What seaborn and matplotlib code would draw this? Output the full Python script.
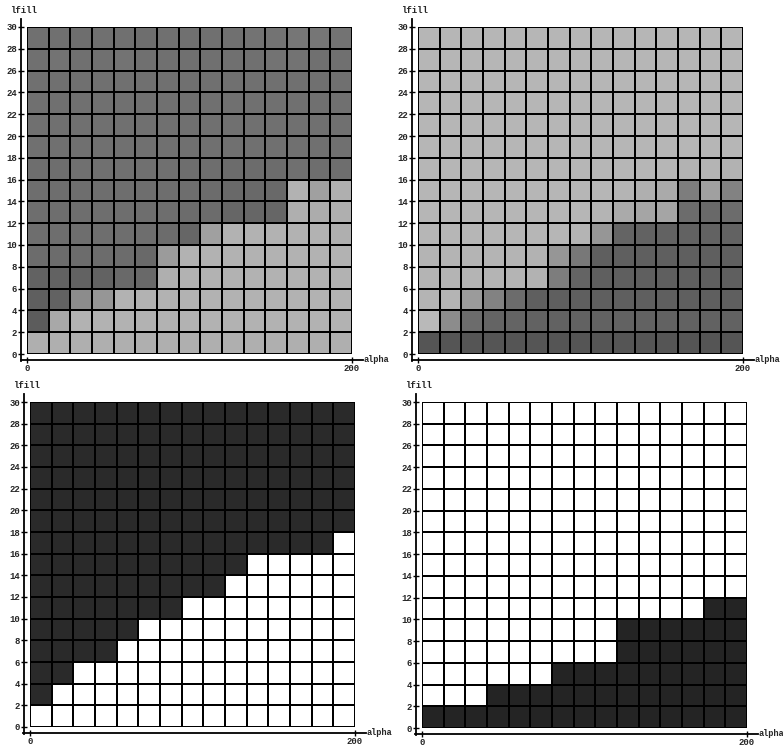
import numpy as np
import pandas as pd
import matplotlib
matplotlib.use('Agg')
import matplotlib.pyplot as plt
import seaborn as sns

# 网格: 15 列 (alpha 0..200) x 15 行 (lfill 0..30), 灰度 0-255, 第一行为最上面 (lfill 28-30)
alpha_ticks = [0, 200]
lfill_ticks = [30, 28, 26, 24, 22, 20, 18, 16, 14, 12, 10, 8, 6, 4, 2, 0]

# 左上图灰度
gray_top_left = [
    [112, 112, 110, 112, 112, 110, 112, 112, 112, 112, 115, 115, 118, 118, 115],
    [112, 115, 112, 112, 115, 112, 112, 112, 112, 112, 112, 115, 115, 112, 112],
    [112, 112, 112, 112, 112, 112, 112, 112, 112, 112, 112, 112, 112, 112, 112],
    [112, 112, 112, 112, 112, 112, 112, 112, 112, 112, 112, 112, 112, 112, 112],
    [112, 112, 112, 112, 112, 112, 112, 112, 112, 112, 112, 112, 112, 112, 112],
    [112, 112, 112, 112, 112, 112, 112, 112, 112, 112, 112, 112, 112, 112, 112],
    [110, 110, 112, 112, 112, 112, 112, 110, 110, 108, 108, 108, 112, 110, 110],
    [110, 110, 110, 110, 110, 110, 110, 110, 108, 105, 105, 105, 178, 160, 175],
    [110, 110, 110, 110, 110, 110, 110, 108, 108, 102, 102, 102, 175, 172, 175],
    [110, 110, 110, 110, 110, 110, 108, 102, 160, 178, 178, 178, 178, 178, 175],
    [108, 108, 108, 108, 108, 105, 155, 178, 178, 178, 178, 178, 178, 178, 178],
    [98, 98, 98, 98, 105, 105, 175, 178, 178, 178, 178, 178, 178, 178, 178],
    [95, 98, 140, 150, 178, 178, 178, 178, 178, 178, 178, 178, 178, 178, 178],
    [92, 168, 178, 178, 178, 178, 178, 178, 178, 178, 178, 178, 178, 178, 178],
    [175, 175, 175, 175, 175, 175, 175, 175, 175, 175, 175, 175, 175, 175, 175],
]

# 右上图灰度
gray_top_right = [
    [182, 182, 182, 182, 182, 182, 182, 182, 182, 182, 182, 182, 182, 182, 182],
    [182, 182, 182, 182, 182, 182, 182, 182, 182, 182, 182, 182, 182, 182, 182],
    [182, 182, 182, 182, 182, 182, 182, 182, 182, 182, 182, 182, 182, 182, 182],
    [182, 182, 182, 182, 182, 182, 182, 182, 182, 182, 182, 182, 182, 182, 182],
    [182, 182, 182, 182, 182, 182, 182, 182, 182, 182, 182, 182, 182, 182, 182],
    [182, 182, 182, 182, 182, 182, 182, 182, 182, 182, 182, 182, 182, 182, 182],
    [182, 182, 182, 182, 182, 182, 182, 182, 182, 182, 182, 182, 178, 180, 178],
    [182, 182, 182, 182, 182, 182, 182, 182, 182, 180, 175, 170, 125, 160, 130],
    [182, 182, 182, 182, 182, 182, 182, 182, 180, 170, 165, 165, 108, 105, 108],
    [182, 182, 182, 182, 182, 182, 182, 180, 150, 100, 98, 98, 98, 98, 98],
    [180, 180, 180, 180, 180, 178, 150, 120, 95, 95, 95, 95, 95, 95, 95],
    [180, 180, 180, 180, 180, 178, 125, 100, 95, 95, 95, 95, 95, 95, 95],
    [180, 180, 155, 130, 108, 95, 95, 95, 95, 95, 95, 95, 95, 95, 95],
    [185, 140, 108, 100, 100, 98, 98, 98, 98, 98, 98, 98, 98, 98, 98],
    [85, 85, 85, 85, 85, 85, 85, 85, 85, 85, 85, 85, 85, 85, 85],
]

# 下方两图: 每列从底部起的格数
white_rows_bottom_left = [1, 2, 3, 3, 4, 5, 5, 6, 6, 7, 8, 8, 8, 8, 9]
dark_rows_bottom_right = [1, 1, 1, 2, 2, 2, 3, 3, 3, 5, 5, 5, 5, 6, 6]
dark_level_bottom_left = 42
dark_level_bottom_right = 36
white_level = 255


def step_grid(heights, low, high, n_rows=15):
    """按列高度生成网格 (第一行为最上面)"""
    rows = []
    for r in range(n_rows - 1, -1, -1):
        rows.append([low if r < h else high for h in heights])
    return rows


bottom_left = step_grid(white_rows_bottom_left, white_level, dark_level_bottom_left)
bottom_right = step_grid(dark_rows_bottom_right, dark_level_bottom_right, white_level)

sns.set_theme(style="white")
plt.rcParams['font.family'] = ['Liberation Mono', 'DejaVu Sans Mono']
plt.rcParams['hatch.linewidth'] = 0.4

W, H = 783, 747
fig = plt.figure(figsize=(W / 100, H / 100), dpi=100)

# 各子图网格的像素范围 (左, 上, 右, 下), 以及是否加网点纹理
panels = [
    (gray_top_left, (27, 27, 352, 354), True),
    (gray_top_right, (418, 27, 743, 354), True),
    (bottom_left, (30, 402, 355, 727), False),
    (bottom_right, (422, 402, 747, 728), False),
]

for grid, (l, t, r, b), textured in panels:
    ax = fig.add_axes([l / W, 1 - b / H, (r - l) / W, (b - t) / H])
    df = pd.DataFrame(grid)
    sns.heatmap(df, ax=ax, cmap='gray', vmin=0, vmax=255, cbar=False,
                linewidths=1.1, linecolor='black', square=False)
    if textured:
        # 模拟扫描图里的网点
        ax.collections[0].set_hatch('....')

    # 坐标轴线 (稍微外移)
    for side in ['left', 'bottom']:
        ax.spines[side].set_visible(True)
        ax.spines[side].set_color('black')
        ax.spines[side].set_linewidth(1.3)
        ax.spines[side].set_position(('outward', 4))
    ax.spines['left'].set_bounds(15.3, -0.35)
    ax.spines['bottom'].set_bounds(-0.3, 15.5)
    for side in ['right', 'top']:
        ax.spines[side].set_visible(False)

    ax.set_yticks(np.arange(len(lfill_ticks)))
    ax.set_yticklabels([str(v) for v in lfill_ticks], rotation=0)
    ax.set_xticks([0, 15])
    ax.set_xticklabels([str(v) for v in alpha_ticks], rotation=0)
    ax.tick_params(axis='both', which='both', direction='inout', length=4,
                   width=1, color='black', labelsize=6.5, pad=1, left=True, bottom=True)
    for lab in ax.get_xticklabels() + ax.get_yticklabels():
        lab.set_fontweight('bold')
    ax.set_xlabel('')
    ax.set_ylabel('')

    # 轴标题
    ax.text(-0.052, 1.05, 'lfill', transform=ax.transAxes, ha='left', va='center',
            fontsize=6.5, fontweight='bold')
    ax.text(1.035, -0.018, 'alpha', transform=ax.transAxes, ha='left', va='center',
            fontsize=6.2, fontweight='bold', clip_on=False)

fig.savefig('out.png', dpi=100, facecolor='white')
plt.close(fig)
